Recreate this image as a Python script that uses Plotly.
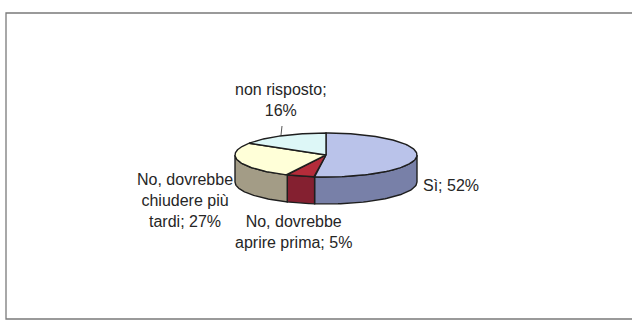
import numpy as np
import plotly.graph_objects as go

# ---- data ----
categories = ["Sì", "No, dovrebbe aprire prima", "No, dovrebbe chiudere più tardi", "non risposto"]
values = [52, 5, 27, 16]
label_texts = ["Sì; 52%", "No, dovrebbe<br>aprire prima; 5%", "No, dovrebbe<br>chiudere più<br>tardi; 27%", "non risposto;<br>16%"]

top_colors = ["#BAC3EA", "#B42C3A", "#FFFFD8", "#DDF7F7"]
side_colors = ["#7880A8", "#842030", "#A39C86", "#9FBDBD"]

# ---- geometry (pixel space) ----
W, H = 632, 322
cx, cy, rx, ry, depth = 326, 155, 91, 22, 27

def pt(theta_deg, dy=0.0):
    t = np.radians(theta_deg)
    return cx + rx * np.sin(t), cy - ry * np.cos(t) + dy

fig = go.Figure()

total = float(sum(values))
bounds = np.concatenate([[0], np.cumsum(values)]) / total * 360.0

# side walls (visible front half: 90..270 deg clockwise from top)
for i in range(len(values)):
    a1, a2 = max(bounds[i], 90), min(bounds[i + 1], 270)
    if a2 <= a1:
        continue
    th = np.linspace(a1, a2, 60)
    xt, yt = pt(th)
    xb, yb = pt(th[::-1], depth)
    xs = np.concatenate([xt, xb, [xt[0]]])
    ys = np.concatenate([yt, yb, [yt[0]]])
    fig.add_trace(go.Scatter(x=xs, y=ys, mode="lines", fill="toself",
                             fillcolor=side_colors[i],
                             line=dict(color="#1e1e1e", width=1.4),
                             hoverinfo="skip", showlegend=False))

# top faces
for i in range(len(values)):
    th = np.linspace(bounds[i], bounds[i + 1], 120)
    xt, yt = pt(th)
    xs = np.concatenate([[cx], xt, [cx]])
    ys = np.concatenate([[cy], yt, [cy]])
    fig.add_trace(go.Scatter(x=xs, y=ys, mode="lines", fill="toself",
                             fillcolor=top_colors[i],
                             line=dict(color="#1e1e1e", width=1.4),
                             hoverinfo="skip", showlegend=False))

# leader line for "non risposto"
fig.add_trace(go.Scatter(x=[282, 281], y=[126, 135], mode="lines",
                         line=dict(color="#555555", width=1),
                         hoverinfo="skip", showlegend=False))

label_pos = [(451, 185), (293, 232), (185, 200), (281, 100)]
for txt, (lx, ly) in zip(label_texts, label_pos):
    fig.add_annotation(x=lx, y=ly, text=txt, showarrow=False,
                       xanchor="center", yanchor="middle", align="center",
                       font=dict(family="Liberation Sans, Arial, sans-serif", size=16, color="#262626"))

# outer frame
fig.add_shape(type="rect", x0=6, y0=13, x1=660, y1=319,
              line=dict(color="#7a7a7a", width=1.3), fillcolor="rgba(0,0,0,0)", layer="below")

fig.update_layout(
    width=W, height=H, margin=dict(l=0, r=0, t=0, b=0),
    paper_bgcolor="white", plot_bgcolor="white",
    xaxis=dict(range=[0, W], visible=False, fixedrange=True),
    yaxis=dict(range=[H, 0], visible=False, fixedrange=True),
    showlegend=False,
)

fig.write_html("out.html", config={"displayModeBar": False})
